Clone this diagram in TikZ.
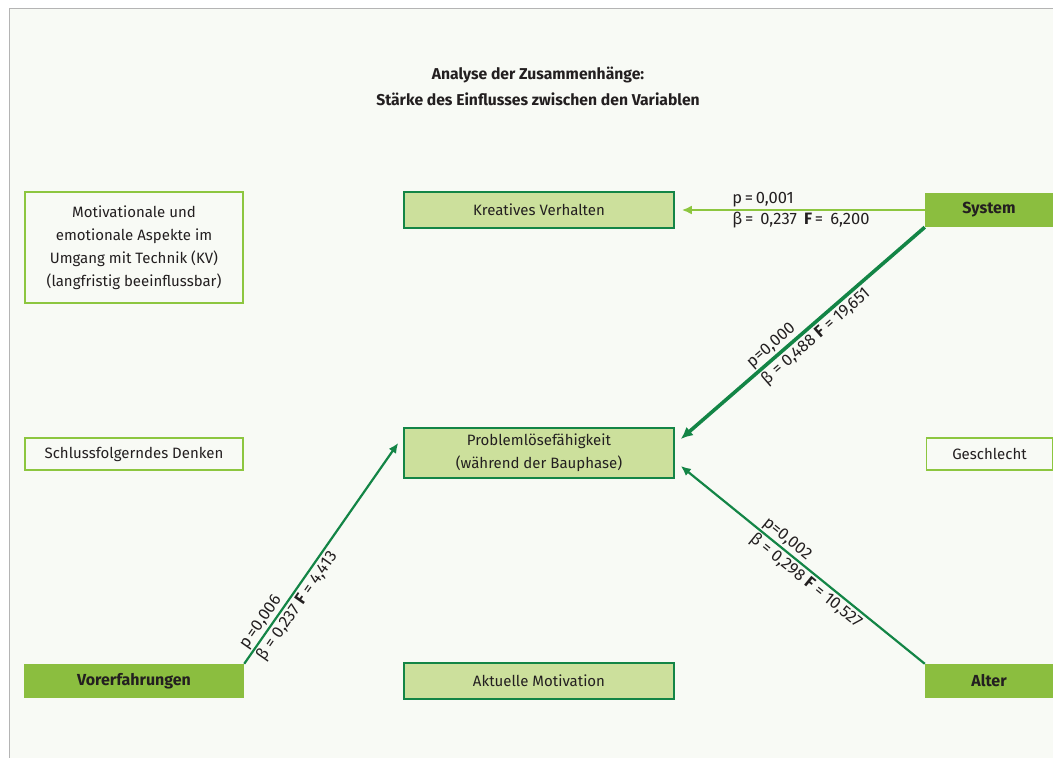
\documentclass[tikz,border=0pt]{standalone}
\usepackage{fontspec}
\setmainfont{Fira Sans}
\usetikzlibrary{positioning,calc,arrows.meta}

\definecolor{paper}{HTML}{F8FAF5}
\definecolor{frame}{HTML}{B4B4B4}
\definecolor{ink}{HTML}{231F20}
\definecolor{lightgreen}{HTML}{8DC63F}
\definecolor{darkgreen}{HTML}{138546}
\definecolor{palegreen}{HTML}{CCE09C}
\definecolor{srcgreen}{HTML}{8BBE3F}

\begin{document}
\begin{tikzpicture}[x=1pt,y=-1pt,
    every node/.style={text=ink, font=\fontsize{15}{23}\selectfont},
    outbox/.style={draw=lightgreen, fill=paper, line width=1.8pt, minimum width=218pt, minimum height=32pt, align=center},
    midbox/.style={draw=darkgreen, fill=palegreen, line width=1.6pt, minimum width=270pt, minimum height=36pt, align=center},
    srcbox/.style={fill=srcgreen, minimum width=128pt, minimum height=34pt, font=\fontsize{16}{18}\selectfont\bfseries},
    lbl/.style={font=\fontsize{16.5}{18}\selectfont, inner sep=1.5pt},
    lnk/.style={darkgreen, line width=2.2pt, -{Latex[length=10pt,width=9pt]}}]
    \useasboundingbox (0,0) rectangle (1053,758);
    \fill[paper] (9,8) rectangle (1053,758);
    \draw[frame, line width=1.5pt] (9.5,758) -- (9.5,8.5) -- (1053,8.5);

    % title
    \node[font=\fontsize{15.7}{26}\selectfont\bfseries, align=center] (title) at (538,86)
        {Analyse der Zusammenhänge:\\Stärke des Einflusses zwischen den Variablen};

    % left column
    \node[outbox, minimum height=111pt] (motiv) at (134,247.5)
        {Motivationale und\\emotionale Aspekte im\\Umgang mit Technik (KV)\\(langfristig beeinflussbar)};
    \node[outbox] (schluss) at (134,454) {Schlussfolgerndes Denken};
    \node[srcbox, minimum width=220pt] (vorerf) at (134,681) {Vorerfahrungen};

    % middle column
    \node[midbox] (kreativ) at (539,210) {Kreatives Verhalten};
    \node[midbox, minimum height=50pt] (prob) at (539,453) {Problemlösefähigkeit\\(während der Bauphase)};
    \node[midbox] (aktuell) at (539,681) {Aktuelle Motivation};

    % right column
    \node[srcbox] (system) at (989,210) {System};
    \node[outbox, minimum width=126pt] (geschl) at (989.5,454) {Geschlecht};
    \node[srcbox] (alter) at (989,681) {Alter};

    \coordinate (sysend) at ($(prob.east)+(6,-14)$);
    \coordinate (altend) at ($(prob.east)+(6,13)$);
    \coordinate (vorend) at ($(prob.west)+(-5,-10)$);

    % connectors
    \draw[lnk, lightgreen, shorten >=7pt] (system.west) -- (kreativ.east)
        node[lbl, pos=0.78, anchor=south west] {p\,=\,0,001}
        node[lbl, pos=0.78, anchor=north west] {β\,= \,0,237 \,\textbf{F}\,= \,6,200};
    \draw[lnk, line width=3.6pt, -{Latex[length=12pt,width=11pt]}] (system.south west) -- (sysend)
        node[lbl, pos=0.70, sloped, anchor=south west] {p=0,000}
        node[lbl, pos=0.70, sloped, anchor=north west] {β = 0,488 \textbf{F} = 19,651};
    \draw[lnk] (alter.north west) -- (altend)
        node[lbl, pos=0.69, sloped, anchor=south west] {p=0,002}
        node[lbl, pos=0.69, sloped, anchor=north west] {β = 0,298 \textbf{F} = 10,527};
    \draw[lnk] (vorerf.north east) -- (vorend)
        node[lbl, pos=0.04, sloped, anchor=south west] {p\,=0,006}
        node[lbl, pos=0.04, sloped, anchor=north west] {β = 0,237 \textbf{F} = 4,413};
\end{tikzpicture}
\end{document}
